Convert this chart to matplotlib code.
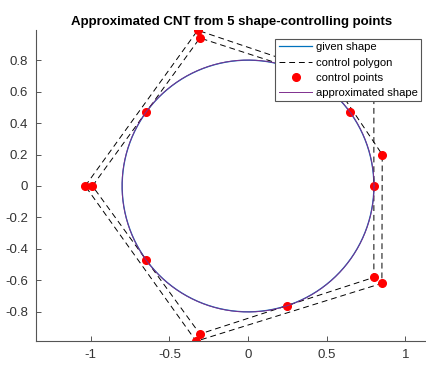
import numpy as np
import matplotlib
matplotlib.use("Agg")
import matplotlib.pyplot as plt
from matplotlib.ticker import FuncFormatter

plt.rcParams["font.family"] = ["Liberation Sans", "DejaVu Sans"]

# shape: circle of radius R
R = 0.8
R_APPROX = 0.801

# inner control polygon (closed)
inner_x = [-0.989, -0.306, 0.800, 0.800, -0.306, -0.989]
inner_y = [0.000, 0.941, 0.581, -0.581, -0.941, 0.000]

# outer control polygon (closed)
outer_x = [-1.035, -0.320, 0.510, 0.853, 0.851, -0.330, -1.035]
outer_y = [0.000, 0.990, 0.710, 0.200, -0.619, -0.987, 0.000]

# control points (polygon vertices + points on the shape)
pts_x = [-0.989, -0.306, 0.800, -0.306, -1.035, -0.320, 0.853, 0.851, -0.330,
         0.800, 0.650, -0.647, -0.647, 0.247]
pts_y = [0.000, 0.941, -0.581, -0.941, 0.000, 0.990, 0.200, -0.619, -0.987,
         0.000, 0.470, 0.470, -0.470, -0.761]


def main():
    fig = plt.figure(figsize=(4.27, 3.65), dpi=100)
    ax = fig.add_axes([0.085, 0.066, 0.914, 0.851])

    t = np.linspace(0, 2 * np.pi, 400)
    ax.plot(R * np.cos(t), R * np.sin(t), color="#0072BD", lw=0.9,
            label="given shape")
    ax.plot(inner_x, inner_y, color="k", lw=0.7, dashes=(6, 4),
            label="control polygon")
    ax.plot(outer_x, outer_y, color="k", lw=0.7, dashes=(6, 4))
    ax.plot(pts_x, pts_y, "o", color="red", ms=5.5, mec="red",
            label="control points")
    ax.plot(R_APPROX * np.cos(t), R_APPROX * np.sin(t), color="#7E2F8E",
            lw=0.7, label="approximated shape")

    ax.set_xlim(-1.346, 1.135)
    ax.set_ylim(-0.985, 0.99)
    ax.set_xticks([-1, -0.5, 0, 0.5, 1])
    ax.set_yticks([-0.8, -0.6, -0.4, -0.2, 0, 0.2, 0.4, 0.6, 0.8])
    fmt = FuncFormatter(lambda v, p: "%g" % round(v, 2))
    ax.xaxis.set_major_formatter(fmt)
    ax.yaxis.set_major_formatter(fmt)

    for s in ["top", "right"]:
        ax.spines[s].set_visible(False)
    for s in ["left", "bottom"]:
        ax.spines[s].set_color("#555555")
        ax.spines[s].set_linewidth(0.8)
    ax.tick_params(direction="in", length=3.5, width=0.7, colors="#555555",
                   labelcolor="#333333", labelsize=9.5, pad=6)

    ax.set_title("Approximated CNT from 5 shape-controlling points",
                 fontsize=9.5, fontweight="bold", pad=4)

    leg = ax.legend(loc="upper right", bbox_to_anchor=(0.986, 0.972),
                    fontsize=8.1, frameon=True, fancybox=False, framealpha=1,
                    borderpad=0.3, labelspacing=0.46, handlelength=3.0,
                    handletextpad=0.3, borderaxespad=0, numpoints=1)
    leg.get_frame().set_edgecolor("#555555")
    leg.get_frame().set_linewidth(0.8)

    fig.savefig("out.png", dpi=100)


if __name__ == "__main__":
    main()
